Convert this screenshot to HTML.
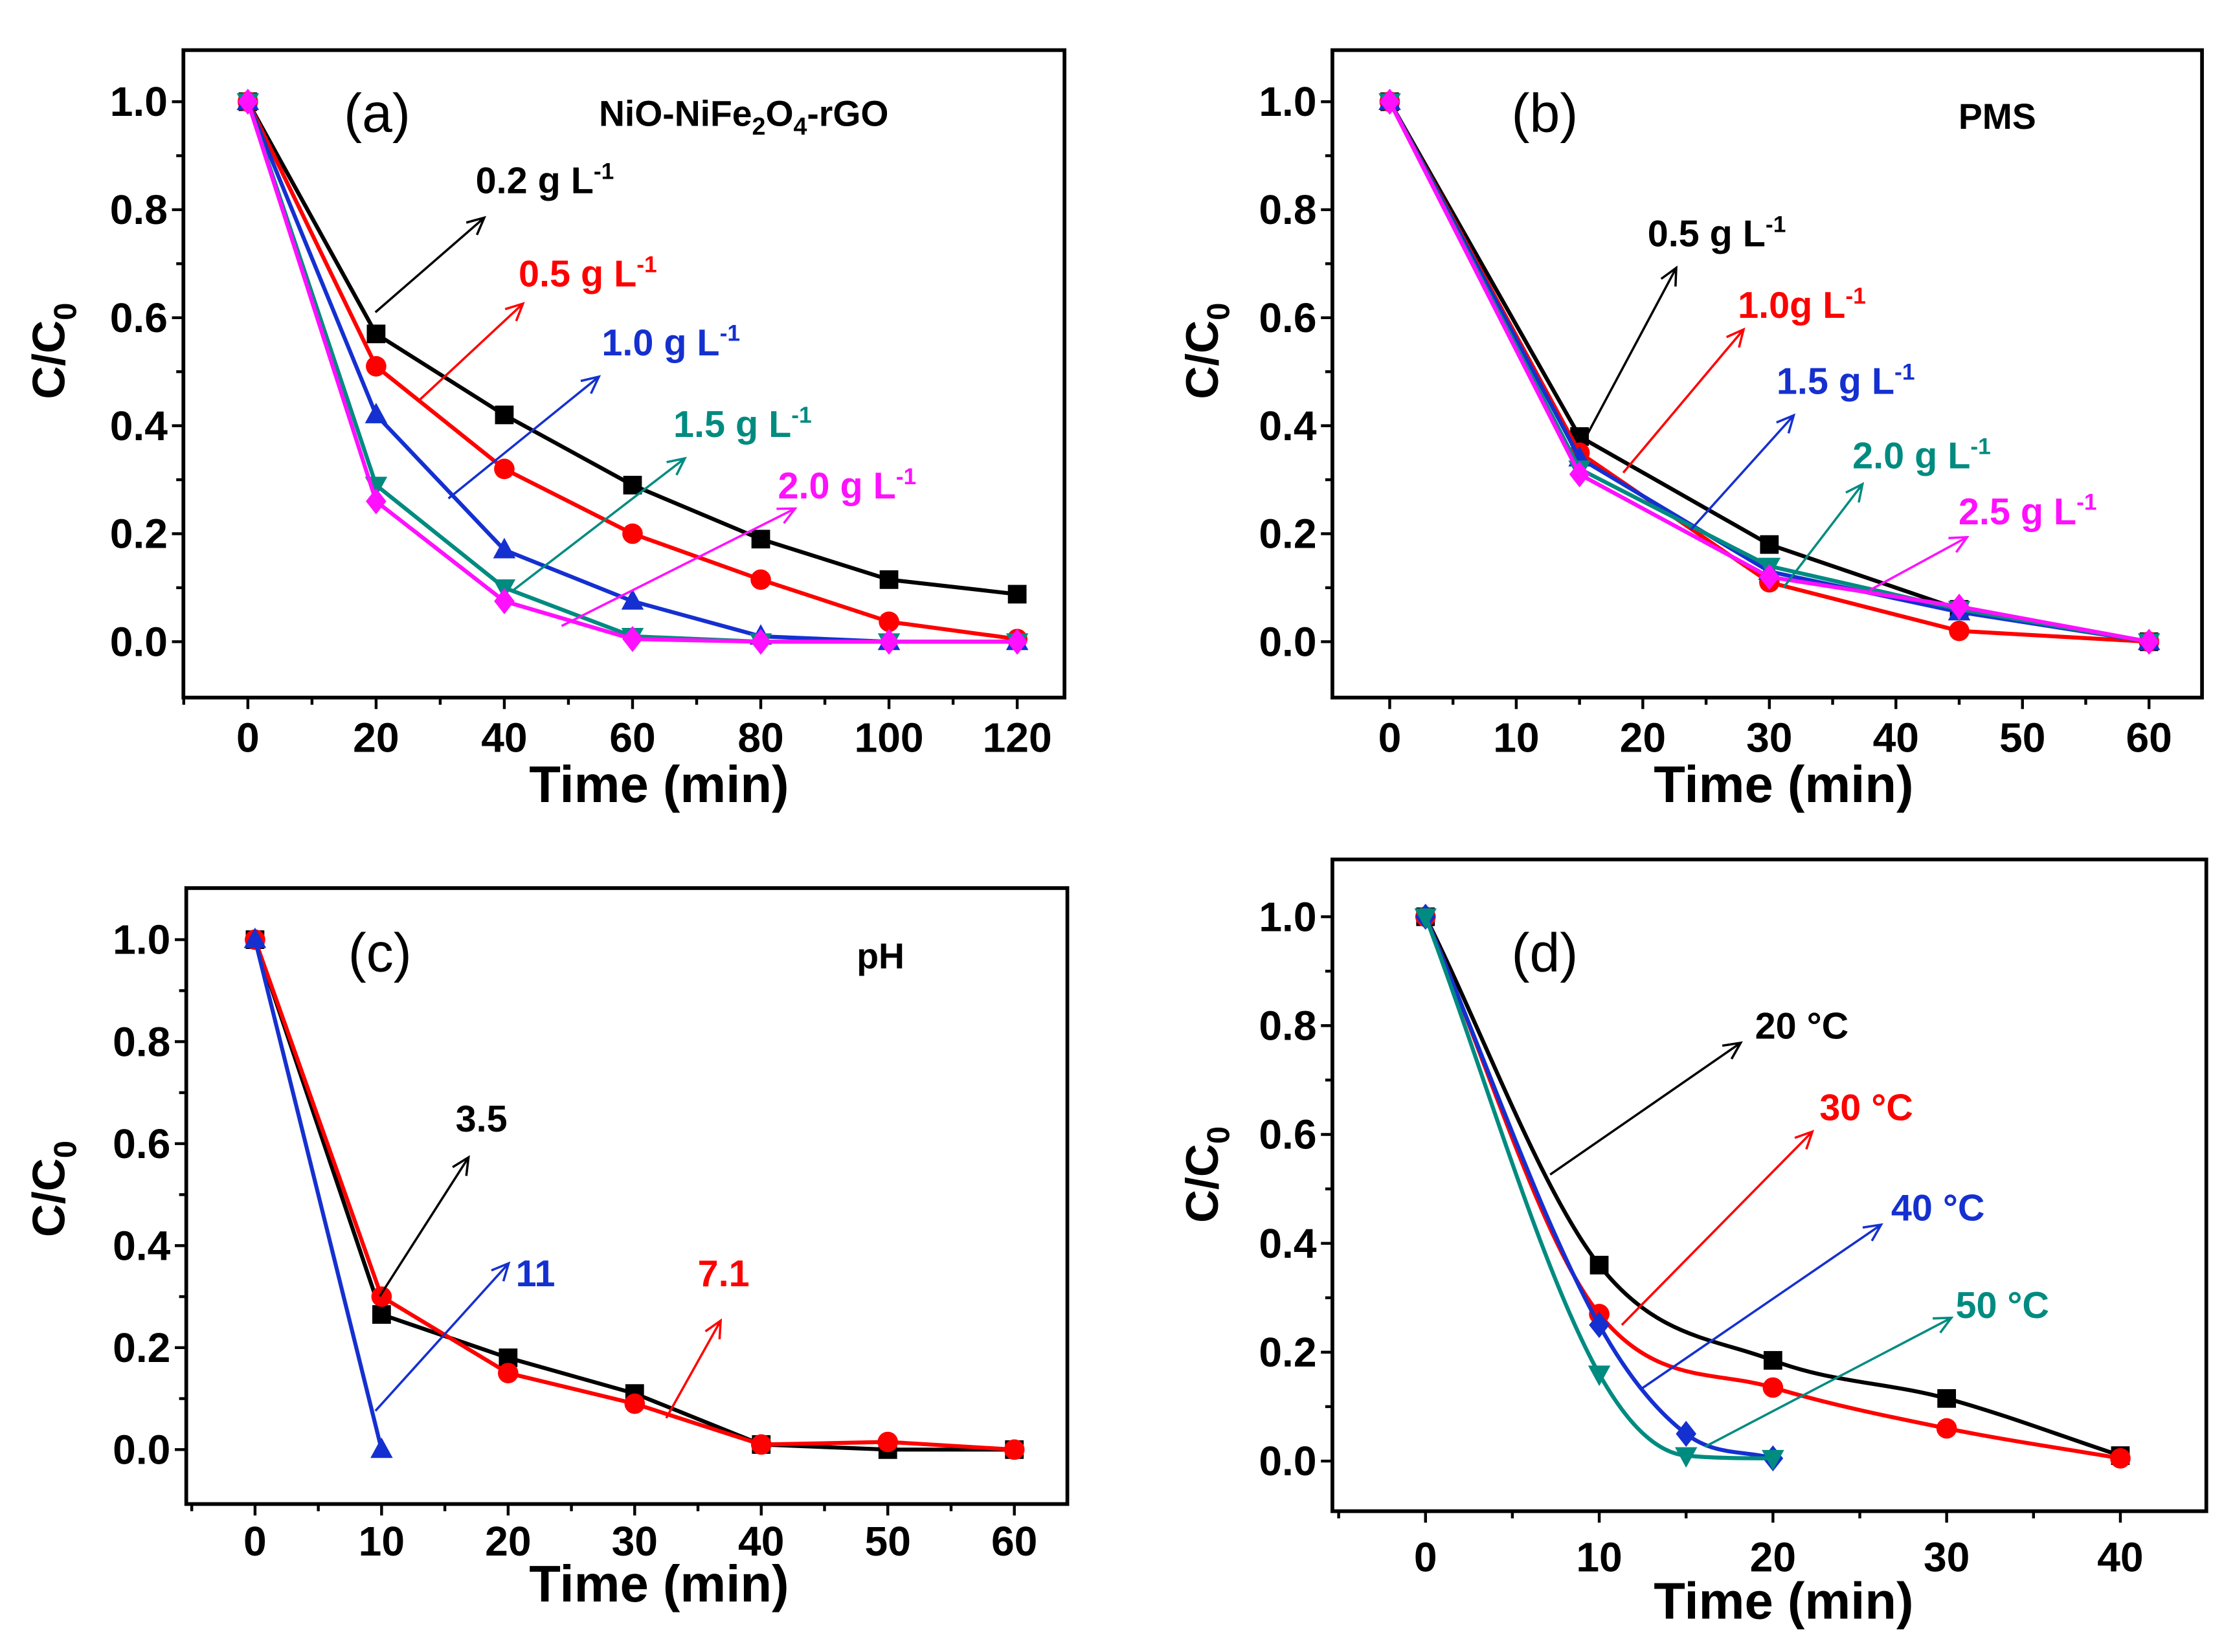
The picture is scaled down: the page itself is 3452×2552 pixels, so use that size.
<!DOCTYPE html>
<html><head><meta charset="utf-8"><style>
html,body{margin:0;padding:0;background:#fff}
svg{display:block}
text{font-family:"Liberation Sans",Arial,sans-serif}
</style></head><body>
<svg id="fig" width="3452" height="2552" viewBox="0 0 1560 1153.3" xmlns="http://www.w3.org/2000/svg">
<rect x="0" y="0" width="1560" height="1154" fill="#fff"/>
</svg>
<script>
// ---- Data ----
const aX=[0,20,40,60,80,100,120];
const aS02=[1,0.57,0.42,0.29,0.19,0.115,0.088];
const aS05=[1,0.51,0.32,0.20,0.115,0.037,0.005];
const aS10=[1,0.42,0.17,0.075,0.01,0,0];
const aS15=[1,0.29,0.10,0.01,0,0,0];
const aS20=[1,0.26,0.075,0.005,0,0,0];
const aXTicks=[0,20,40,60,80,100,120];

const bX=[0,15,30,45,60];
const bS05=[1,0.38,0.18,0.06,0];
const bS10=[1,0.35,0.11,0.02,0];
const bS15=[1,0.34,0.13,0.055,0];
const bS20=[1,0.32,0.14,0.06,0];
const bS25=[1,0.31,0.12,0.065,0];
const bXTicks=[0,10,20,30,40,50,60];

const cX=[0,10,20,30,40,50,60];
const cS35=[1,0.265,0.18,0.11,0.01,0,0];
const cS71=[1,0.30,0.15,0.09,0.01,0.015,0];
const cX11=[0,10];
const cS11=[1,0];
const cXTicks=[0,10,20,30,40,50,60];

const dX1=[0,10,20,30,40];
const dS20=[1,0.36,0.185,0.115,0.01];
const dS30=[1,0.27,0.135,0.06,0.005];
const dX2=[0,10,15,20];
const dS40=[1,0.25,0.05,0.005];
const dS50=[1,0.16,0.01,0.005];
const dXTicks=[0,10,20,30,40];

const yTicks=[0,0.2,0.4,0.6,0.8,1.0];
const yTickLabels=["0.0","0.2","0.4","0.6","0.8","1.0"];

const NS="http://www.w3.org/2000/svg";
const svg=document.getElementById('fig');
function mk(tag,attrs,parent){const e=document.createElementNS(NS,tag);for(const k in attrs)e.setAttribute(k,attrs[k]);(parent||svg).appendChild(e);return e;}

const BLACK="#000",RED="#ff0000",BLUE="#1530d0",TEAL="#008b80",MAG="#ff10ff";

function panel(cfg){
  const g=mk('g',{});
  
  
  const xs=v=>cfg.x0px+(v-cfg.xa)*(cfg.x1px-cfg.x0px)/(cfg.xb-cfg.xa);
  const ys=v=>cfg.y0px+(v)*(cfg.y1px-cfg.y0px);
  const F=cfg.frame;
  const fr=mk('rect',{x:F[0],y:F[1],width:F[2]-F[0],height:F[3]-F[1],fill:'none',stroke:'#000','stroke-width':2.6},g);
  
  for(let i=0;i<=10;i++){const v=i/10;const y=ys(v);const major=i%2==0;
    const t=mk('line',{x1:F[0],x2:F[0]-(major?8:5),y1:y,y2:y,stroke:'#000','stroke-width':2},g);
    }
  yTicks.forEach((v,i)=>{const t=mk('text',{x:F[0]-11,y:ys(v)+10,'text-anchor':'end','font-size':29,'font-weight':'bold'},g);t.textContent=yTickLabels[i];
    });
  const xt=cfg.xticks;const step=xt[1]-xt[0];
  for(let v=xt[0]-step/2;v<=cfg.xmaxFrame;v+=step/2){const x=xs(v);if(x<F[0]||x>F[2])continue;
    const major=Math.abs((v-xt[0])/step-Math.round((v-xt[0])/step))<1e-6;
    const t=mk('line',{x1:x,x2:x,y1:F[3],y2:F[3]+(major?8:5),stroke:'#000','stroke-width':2},g);
    }
  xt.forEach(v=>{const t=mk('text',{x:xs(v),y:F[3]+cfg.xlabOff,'text-anchor':'middle','font-size':29,'font-weight':'bold'},g);t.textContent=String(v);
    });
  const xl=mk('text',{x:cfg.xtitle[0],y:cfg.xtitle[1],'text-anchor':'middle','font-size':36,'font-weight':'bold'},g);
  xl.textContent='Time (min)';
  const yl=mk('text',{x:0,y:0,'text-anchor':'middle','font-size':32,'font-weight':'bold',transform:`translate(${cfg.ytitle[0]},${cfg.ytitle[1]}) rotate(-90)`},g);
  yl.innerHTML='C/C<tspan font-size="22" dy="8">0</tspan>';
  
  const pl=mk('text',{x:cfg.plabel[0],y:cfg.plabel[1],'font-size':38},g);pl.textContent=cfg.plabelText;
  
  return {g,xs,ys};
}

function smoothPath(pts){
  const n=pts.length;if(n<2)return '';
  const dx=[],dy=[],m=[];
  for(let i=0;i<n-1;i++){dx.push(pts[i+1][0]-pts[i][0]);dy.push(pts[i+1][1]-pts[i][1]);m.push(dy[i]/dx[i]);}
  const t=[m[0]];
  for(let i=1;i<n-1;i++){t.push(m[i-1]*m[i]<=0?0:(m[i-1]+m[i])/2);}
  t.push(m[n-2]);
  for(let i=0;i<n-1;i++){if(m[i]===0){t[i]=0;t[i+1]=0;continue;}const a=t[i]/m[i],b=t[i+1]/m[i];const s=a*a+b*b;if(s>9){const k=3/Math.sqrt(s);t[i]=k*a*m[i];t[i+1]=k*b*m[i];}}
  let d=`M${pts[0][0]},${pts[0][1]}`;
  for(let i=0;i<n-1;i++){const h=dx[i]/3;d+=` C${pts[i][0]+h},${pts[i][1]+t[i]*h} ${pts[i+1][0]-h},${pts[i+1][1]-t[i+1]*h} ${pts[i+1][0]},${pts[i+1][1]}`;}
  return d;
}

function marker(g,shape,x,y,color,r){
  let e;
  if(shape==='square')e=mk('rect',{x:x-r,y:y-r,width:2*r,height:2*r,fill:color},g);
  else if(shape==='circle')e=mk('circle',{cx:x,cy:y,r:r*1.1,fill:color},g);
  else if(shape==='up')e=mk('polygon',{points:`${x},${y-r*1.3} ${x-r*1.2},${y+r*0.9} ${x+r*1.2},${y+r*0.9}`,fill:color},g);
  else if(shape==='down')e=mk('polygon',{points:`${x},${y+r*1.3} ${x-r*1.2},${y-r*0.9} ${x+r*1.2},${y-r*0.9}`,fill:color},g);
  else e=mk('polygon',{points:`${x},${y-r*1.4} ${x+r*1.1},${y} ${x},${y+r*1.4} ${x-r*1.1},${y}`,fill:color},g);
  
  
}

function series(P,name,xArr,yArr,color,shape,smooth){
  const g=mk('g',{},P.g);
  
  
  const pts=xArr.map((x,i)=>[P.xs(x),P.ys(yArr[i])]);
  const d=smooth?smoothPath(pts):'M'+pts.map(p=>p.join(',')).join(' L');
  const ln=mk('path',{d:d,fill:'none',stroke:color,'stroke-width':2.8},g);
  
  
  pts.forEach(p=>marker(g,shape,p[0],p[1],color,6.5));
}

function arrow(g,name,x1,y1,x2,y2,color){
  const a=Math.atan2(y2-y1,x2-x1),L=13,w=0.45;
  const ln=mk('path',{d:`M${x1},${y1} L${x2},${y2} M${x2-L*Math.cos(a-w)},${y2-L*Math.sin(a-w)} L${x2},${y2} L${x2-L*Math.cos(a+w)},${y2-L*Math.sin(a+w)}`,fill:'none',stroke:color,'stroke-width':1.6},g);
  
  
}
function label(g,name,x,y,html,color,size){
  const t=mk('text',{x:x,y:y,fill:color,'font-size':size||26,'font-weight':'bold'},g);
  t.innerHTML=html;
  
  
}
const gL=v=>`${v} g L<tspan font-size="16" dy="-10">-1</tspan>`;

// ---- Panel a ----
let P=panel({name:'panel-a',frame:[128,35,743,487],xa:0,xb:120,x0px:173,x1px:710,y0px:448,y1px:71,
  xticks:aXTicks,xmaxFrame:130,xlabOff:38,xtitle:[460,560],ytitle:[45,245],plabel:[240,92],plabelText:'(a)'});
series(P,'series-0-2',aX,aS02,BLACK,'square');
series(P,'series-0-5',aX,aS05,RED,'circle');
series(P,'series-1-0',aX,aS10,BLUE,'up');
series(P,'series-1-5',aX,aS15,TEAL,'down');
series(P,'series-2-0',aX,aS20,MAG,'diamond');
label(P.g,'material-title',418,88,'NiO-NiFe<tspan font-size="17" dy="6">2</tspan><tspan dy="-6">O</tspan><tspan font-size="17" dy="6">4</tspan><tspan dy="-6">-rGO</tspan>',BLACK,25);
arrow(P.g,'arrow-0-2',262,218,338,152,BLACK);label(P.g,'label-0-2',332,135,gL('0.2'),BLACK);
arrow(P.g,'arrow-0-5',292,280,365,212,RED);label(P.g,'label-0-5',362,200,gL('0.5'),RED);
arrow(P.g,'arrow-1-0',313,348,418,263,BLUE);label(P.g,'label-1-0',420,248,gL('1.0'),BLUE);
arrow(P.g,'arrow-1-5',357,413,478,320,TEAL);label(P.g,'label-1-5',470,305,gL('1.5'),TEAL);
arrow(P.g,'arrow-2-0',392,437,555,355,MAG);label(P.g,'label-2-0',543,348,gL('2.0'),MAG);

// ---- Panel b ----
P=panel({name:'panel-b',frame:[930,35,1537,487],xa:0,xb:60,x0px:970,x1px:1500,y0px:448,y1px:71,
  xticks:bXTicks,xmaxFrame:66,xlabOff:38,xtitle:[1245,560],ytitle:[850,245],plabel:[1055,92],plabelText:'(b)'});
series(P,'series-0-5',bX,bS05,BLACK,'square');
series(P,'series-1-0',bX,bS10,RED,'circle');
series(P,'series-1-5',bX,bS15,BLUE,'up');
series(P,'series-2-0',bX,bS20,TEAL,'down');
series(P,'series-2-5',bX,bS25,MAG,'diamond');
label(P.g,'pms-title',1367,90,'PMS',BLACK,25);
arrow(P.g,'arrow-0-5',1107,305,1170,187,BLACK);label(P.g,'label-0-5',1150,172,gL('0.5'),BLACK);
arrow(P.g,'arrow-1-0',1133,330,1217,230,RED);label(P.g,'label-1-0',1213,222,`1.0g L<tspan font-size="16" dy="-10">-1</tspan>`,RED);
arrow(P.g,'arrow-1-5',1180,370,1252,290,BLUE);label(P.g,'label-1-5',1240,275,gL('1.5'),BLUE);
arrow(P.g,'arrow-2-0',1245,410,1300,338,TEAL);label(P.g,'label-2-0',1293,327,gL('2.0'),TEAL);
arrow(P.g,'arrow-2-5',1305,412,1373,375,MAG);label(P.g,'label-2-5',1367,366,gL('2.5'),MAG);

// ---- Panel c ----
P=panel({name:'panel-c',frame:[130,620,745,1050],xa:0,xb:60,x0px:178,x1px:708,y0px:1012,y1px:656,
  xticks:cXTicks,xmaxFrame:66,xlabOff:36,xtitle:[460,1118],ytitle:[45,830],plabel:[243,678],plabelText:'(c)'});
series(P,'series-ph-3-5',cX,cS35,BLACK,'square');
series(P,'series-ph-7-1',cX,cS71,RED,'circle');
series(P,'series-ph-11',cX11,cS11,BLUE,'up');
label(P.g,'ph-title',598,676,'pH',BLACK,25);
arrow(P.g,'arrow-3-5',265,905,327,808,BLACK);label(P.g,'label-3-5',318,790,'3.5',BLACK);
arrow(P.g,'arrow-11',262,985,355,882,BLUE);label(P.g,'label-11',360,898,'11',BLUE);
arrow(P.g,'arrow-7-1',465,990,503,922,RED);label(P.g,'label-7-1',487,898,'7.1',RED);

// ---- Panel d ----
P=panel({name:'panel-d',frame:[930,600,1540,1055],xa:0,xb:40,x0px:995,x1px:1480,y0px:1020,y1px:640,
  xticks:dXTicks,xmaxFrame:46,xlabOff:42,xtitle:[1245,1130],ytitle:[850,820],plabel:[1055,678],plabelText:'(d)'});
series(P,'series-20c',dX1,dS20,BLACK,'square',true);
series(P,'series-30c',dX1,dS30,RED,'circle',true);
series(P,'series-40c',dX2,dS40,BLUE,'diamond',true);
series(P,'series-50c',dX2,dS50,TEAL,'down',true);
arrow(P.g,'arrow-20c',1082,820,1215,728,BLACK);label(P.g,'label-20c',1225,725,'20 °C',BLACK);
arrow(P.g,'arrow-30c',1132,925,1265,790,RED);label(P.g,'label-30c',1270,782,'30 °C',RED);
arrow(P.g,'arrow-40c',1145,970,1313,855,BLUE);label(P.g,'label-40c',1320,852,'40 °C',BLUE);
arrow(P.g,'arrow-50c',1190,1010,1362,920,TEAL);label(P.g,'label-50c',1365,920,'50 °C',TEAL);
</script>
</body></html>
